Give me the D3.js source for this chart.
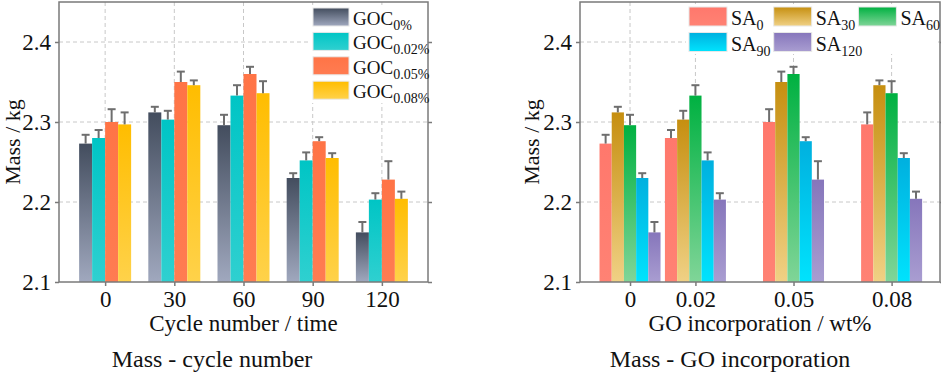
<!DOCTYPE html>
<html>
<head>
<meta charset="utf-8">
<script src="https://cdn.jsdelivr.net/npm/d3@7"></script>
<style>
  body { margin: 0; background: #fff; }
  text { font-family: "Liberation Serif", "Times New Roman", serif; fill: #111; }
</style>
</head>
<body>
<div id="chart"></div>
<script>
// x categories
const cycles = [0, 30, 60, 90, 120];
const goLevels = [0, 0.02, 0.05, 0.08];

// mass (kg) per GO level, indexed by cycle number
const goc0 = [2.273, 2.312, 2.296, 2.230, 2.162];
const goc002 = [2.280, 2.303, 2.333, 2.252, 2.203];
const goc005 = [2.300, 2.350, 2.360, 2.276, 2.228];
const goc008 = [2.297, 2.346, 2.336, 2.255, 2.204];

// error bars (upper only)
const err0 = [0.011, 0.007, 0.013, 0.006, 0.013];
const err002 = [0.010, 0.011, 0.013, 0.010, 0.008];
const err005 = [0.016, 0.013, 0.009, 0.005, 0.023];
const err008 = [0.015, 0.006, 0.015, 0.006, 0.009];

const yTicks = [2.1, 2.2, 2.3, 2.4];

const gocNames = ["0%", "0.02%", "0.05%", "0.08%"];
const saNames = ["0", "30", "60", "90", "120"];

const gocValues = [goc0, goc002, goc005, goc008];
const gocErrors = [err0, err002, err005, err008];

// transpose for the right chart: one series per cycle number
const saValues = cycles.map((c, i) => gocValues.map(s => s[i]));
const saErrors = cycles.map((c, i) => gocErrors.map(s => s[i]));

const svg = d3.select("#chart").append("svg")
    .attr("width", 941)
    .attr("height", 373);

const defs = svg.append("defs");

function addGradient(id, top, bottom) {
    const g = defs.append("linearGradient")
        .attr("id", id)
        .attr("x1", 0).attr("y1", 0).attr("x2", 0).attr("y2", 1);
    g.append("stop").attr("offset", "0%").attr("stop-color", top);
    g.append("stop").attr("offset", "100%").attr("stop-color", bottom);
    return `url(#${id})`;
}

const gocFills = [
    addGradient("g0", "#434d5e", "#a0a8be"),
    addGradient("g1", "#00c5c5", "#2fd0d0"),
    addGradient("g2", "#ff7446", "#ff7c52"),
    addGradient("g3", "#ffbd00", "#ffd24a")
];
const saFills = [
    addGradient("s0", "#ff786c", "#ff8274"),
    addGradient("s1", "#c68f10", "#f0d185"),
    addGradient("s2", "#00b141", "#80d598"),
    addGradient("s3", "#00b0df", "#00e3fd"),
    addGradient("s4", "#8676bb", "#a99dd1")
];

const y = d3.scaleLinear().domain([2.1, 2.45]).range([282, 2]);

function drawChart(opt) {
    const g = svg.append("g");
    const x = opt.x;
    const [x0, x1] = x.range();
    const top = y.range()[1], bottom = y.range()[0];

    // grid
    g.selectAll(".hgrid").data(yTicks.filter(d => d > 2.1))
        .enter().append("line")
        .attr("x1", x0).attr("x2", x1)
        .attr("y1", d => y(d)).attr("y2", d => y(d))
        .attr("stroke", "#c8c8c8").attr("stroke-dasharray", "4,3");
    g.selectAll(".vgrid").data(opt.cats)
        .enter().append("line")
        .attr("x1", d => x(d)).attr("x2", d => x(d))
        .attr("y1", top).attr("y2", bottom)
        .attr("stroke", "#c8c8c8").attr("stroke-dasharray", "4,3");

    // bars
    const n = opt.values.length;
    const bw = opt.groupWidth / n;
    opt.values.forEach((series, si) => {
        const bars = g.append("g");
        bars.selectAll("rect").data(series)
            .enter().append("rect")
            .attr("x", (d, i) => x(opt.cats[i]) - opt.groupWidth / 2 + si * bw)
            .attr("width", bw)
            .attr("y", d => y(d))
            .attr("height", d => bottom - y(d))
            .attr("fill", opt.fills[si]);
        const errs = opt.errors[si];
        const eg = bars.selectAll(".err").data(series)
            .enter().append("g")
            .attr("stroke", "#6e6e6e").attr("stroke-width", 2);
        eg.append("line")
            .attr("x1", (d, i) => x(opt.cats[i]) - opt.groupWidth / 2 + (si + 0.5) * bw)
            .attr("x2", (d, i) => x(opt.cats[i]) - opt.groupWidth / 2 + (si + 0.5) * bw)
            .attr("y1", d => y(d))
            .attr("y2", (d, i) => y(d + errs[i]));
        eg.append("line")
            .attr("x1", (d, i) => x(opt.cats[i]) - opt.groupWidth / 2 + (si + 0.5) * bw - 4)
            .attr("x2", (d, i) => x(opt.cats[i]) - opt.groupWidth / 2 + (si + 0.5) * bw + 4)
            .attr("y1", (d, i) => y(d + errs[i]))
            .attr("y2", (d, i) => y(d + errs[i]));
    });

    // frame
    g.append("rect")
        .attr("x", x0).attr("y", top)
        .attr("width", x1 - x0).attr("height", bottom - top)
        .attr("fill", "none").attr("stroke", "#7a7a7a").attr("stroke-width", 1.5);

    // axes
    const yAxis = g.append("g")
        .attr("transform", `translate(${x0},0)`)
        .call(d3.axisLeft(y).tickValues(yTicks).tickFormat(d3.format(".1f")).tickSize(4).tickPadding(4));
    yAxis.select(".domain").remove();
    yAxis.selectAll("line").attr("stroke", "#7a7a7a").attr("stroke-width", 1.5);
    yAxis.selectAll("text").style("font-size", "23px").attr("fill", "#111")
        .style("font-family", "Liberation Serif");

    const yRight = g.append("g")
        .attr("transform", `translate(${x1},0)`)
        .call(d3.axisRight(y).tickValues(yTicks).tickSize(4).tickFormat(""));
    yRight.select(".domain").remove();
    yRight.selectAll("line").attr("stroke", "#7a7a7a").attr("stroke-width", 1.5);

    const xAxis = g.append("g")
        .attr("transform", `translate(0,${bottom})`)
        .call(d3.axisBottom(x).tickValues(opt.cats).tickFormat(opt.fmt).tickSize(4).tickPadding(5));
    xAxis.select(".domain").remove();
    xAxis.selectAll("line").attr("stroke", "#7a7a7a").attr("stroke-width", 1.5);
    xAxis.selectAll("text").style("font-size", "23px").attr("fill", "#111")
        .style("font-family", "Liberation Serif");

    // titles
    g.append("text")
        .attr("transform", `translate(${opt.yLabelX},${(top + bottom) / 2}) rotate(-90)`)
        .attr("text-anchor", "middle")
        .style("font-size", "22px")
        .text("Mass / kg");
    g.append("text")
        .attr("x", (x0 + x1) / 2).attr("y", 331)
        .attr("text-anchor", "middle")
        .style("font-size", "23px")
        .text(opt.xLabel);
    g.append("text")
        .attr("x", opt.captionX).attr("y", 367)
        .attr("text-anchor", "middle")
        .style("font-size", "24px")
        .text(opt.caption);

    // legend
    const lg = g.append("g");
    lg.append("rect")
        .attr("x", opt.legend.box[0]).attr("y", opt.legend.box[1])
        .attr("width", opt.legend.box[2]).attr("height", opt.legend.box[3])
        .attr("fill", "#fff");
    opt.names.forEach((name, i) => {
        const [lx, ly] = opt.legend.pos(i);
        lg.append("rect")
            .attr("x", lx).attr("y", ly)
            .attr("width", opt.legend.sw).attr("height", opt.legend.sh)
            .attr("fill", opt.fills[i])
            .attr("stroke", "#e8e8e8").attr("stroke-width", 1);
        const t = lg.append("text")
            .attr("x", lx + opt.legend.sw + 4).attr("y", ly + opt.legend.sh - 1)
            .style("font-size", opt.legend.fs + "px");
        t.append("tspan").text(opt.legend.prefix);
        t.append("tspan").attr("dy", 5).style("font-size", "14px").text(name);
    });
}

drawChart({
    x: d3.scaleLinear().domain([-20, 140]).range([59, 428]),
    cats: cycles,
    fmt: d3.format("d"),
    values: gocValues,
    errors: gocErrors,
    fills: gocFills,
    names: gocNames,
    groupWidth: 52,
    yLabelX: 20,
    xLabel: "Cycle number / time",
    caption: "Mass - cycle number",
    captionX: 212,
    legend: {
        box: [311, 5, 116, 98],
        pos: i => [313, 8 + i * 24.4],
        sw: 36, sh: 18, fs: 19, prefix: "GOC"
    }
});

drawChart({
    x: d3.scaleLinear().domain([-0.0153, 0.0948]).range([580, 940]),
    cats: goLevels,
    fmt: d => d === 0 ? "0" : d3.format(".2f")(d),
    values: saValues,
    errors: saErrors,
    fills: saFills,
    names: saNames,
    groupWidth: 61,
    yLabelX: 539,
    xLabel: "GO incorporation / wt%",
    caption: "Mass - GO incorporation",
    captionX: 730,
    legend: {
        box: [686, 4, 252, 50],
        pos: i => [689 + (i % 3) * 84.7, 7 + Math.floor(i / 3) * 25.5],
        sw: 38, sh: 19, fs: 20, prefix: "SA"
    }
});
</script>
</body>
</html>
